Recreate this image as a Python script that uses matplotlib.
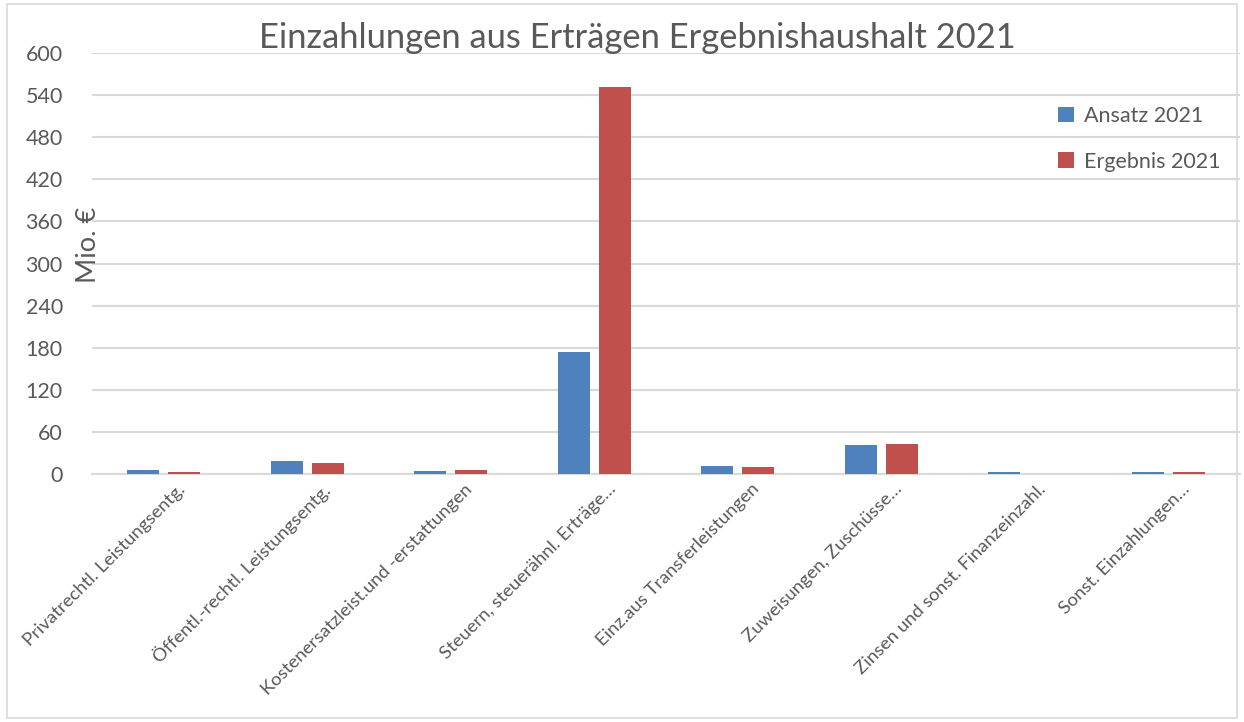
import matplotlib
matplotlib.use("Agg")
import matplotlib.pyplot as plt
import matplotlib.transforms as mtransforms
import numpy as np

plt.rcParams['font.family'] = ['Lato', 'DejaVu Sans']

title = "Einzahlungen aus Erträgen Ergebnishaushalt 2021"
categories = [
    "Privatrechtl. Leistungsentg.",
    "Öffentl.-rechtl. Leistungsentg.",
    "Kostenersatzleist.und -erstattungen",
    "Steuern, steuerähnl. Erträge…",
    "Einz.aus Transferleistungen",
    "Zuweisungen, Zuschüsse…",
    "Zinsen und sonst. Finanzeinzahl.",
    "Sonst. Einzahlungen…",
]
series_names = ["Ansatz 2021", "Ergebnis 2021"]
ansatz = [6, 18, 4, 174, 11.5, 42, 2.3, 3.3]
ergebnis = [3.5, 16, 5, 551, 10.5, 43, 0.5, 3.3]
yticks = list(range(0, 601, 60))

blue = "#4F81BD"
red = "#C0504D"
text_col = "#595959"
grid_col = "#D9D9D9"

fig = plt.figure(figsize=(12.44, 7.22), dpi=100)
# outer chart border
fig.patches.append(plt.Rectangle((7/1244, 4/722), 1 - 14/1244, 1 - 8/722,
                                 transform=fig.transFigure, fill=False,
                                 edgecolor=grid_col, linewidth=1.2))
ax = fig.add_axes([92/1244, 1 - 474/722, (1240 - 92)/1244, (474 - 53)/722])

x = np.arange(len(categories))
w = 0.223
off = 0.143
ax.bar(x - off, ansatz, width=w, color=blue, label=series_names[0], zorder=3)
ax.bar(x + off, ergebnis, width=w, color=red, label=series_names[1], zorder=3)

ax.set_xlim(-0.5, len(categories) - 0.5)
ax.set_ylim(0, 600)
ax.set_yticks(yticks)
ax.yaxis.grid(True, color=grid_col, linewidth=1.5, zorder=0)
ax.set_axisbelow(True)
for s in ["top", "right", "left"]:
    ax.spines[s].set_visible(False)
ax.spines["bottom"].set_color(grid_col)
ax.spines["bottom"].set_linewidth(1.5)
ax.tick_params(axis="both", length=0, colors=text_col)
ax.tick_params(axis="y", labelsize=15.5, pad=21)
ax.set_xticks(x)
ax.set_xticklabels(categories, rotation=45, ha="right", rotation_mode="anchor",
                   fontsize=13.3, color=text_col)
offset = mtransforms.ScaledTranslation(13/100, -2/100, fig.dpi_scale_trans)
for lbl in ax.get_xticklabels():
    lbl.set_transform(lbl.get_transform() + offset)

fig.text(88/1244, 1 - 245/722, "Mio. €", rotation=90, ha="center", va="center",
         fontsize=19.5, color=text_col)
fig.text(637/1244, 1 - 38/722, title, ha="center", va="center",
         fontsize=24.8, color=text_col)

leg = ax.legend(loc="upper right", bbox_to_anchor=(1.0, 0.92), frameon=False,
                fontsize=15.5, labelcolor=text_col, handlelength=0.75,
                handleheight=0.75, handletextpad=0.45, labelspacing=1.2)

fig.savefig("out.png", dpi=100)
